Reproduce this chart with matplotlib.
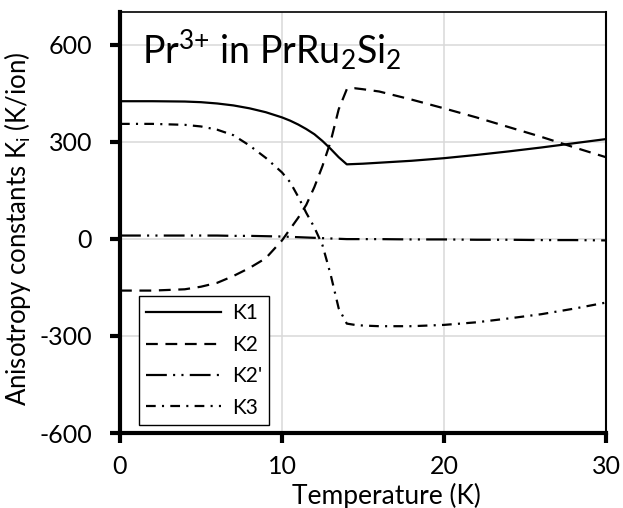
import matplotlib
matplotlib.use("Agg")
import matplotlib.pyplot as plt

# temperature grid (K) and anisotropy constants (K/ion)
temp = [0, 2, 4, 5, 6, 7, 8, 9, 10, 10.5, 11, 11.5, 12, 12.5, 13, 13.5, 14,
        14.5, 15, 16, 18, 20, 22, 24, 26, 28, 30]
k1 = [425, 425, 424, 422, 418, 412, 403, 391, 375, 365, 353, 339, 323, 302,
      278, 252, 230, 231, 232, 235, 241, 249, 259, 270, 282, 295, 308]
k2 = [-160, -160, -156, -148, -136, -115, -90, -60, -5, 30, 65, 105, 160, 225,
      300, 400, 462, 465, 462, 455, 430, 403, 375, 345, 315, 283, 252]
k2p = [10, 10, 10, 10, 10, 9, 9, 8, 7, 6, 5, 4, 3, 2, 1, 0, -1, -1, -1, -1,
       -2, -2, -3, -3, -4, -4, -5]
k3 = [355, 355, 352, 347, 337, 320, 288, 250, 205, 175, 130, 80, 35, -20,
      -110, -215, -262, -266, -268, -270, -270, -266, -258, -246, -233, -216, -197]

labels = ["K1", "K2", "K2'", "K3"]
x_ticks = [0, 10, 20, 30]
y_ticks = [-600, -300, 0, 300, 600]

plt.rcParams['font.family'] = ['Lato', 'DejaVu Sans']
plt.rcParams['mathtext.fontset'] = 'custom'
plt.rcParams['mathtext.rm'] = 'Lato'
plt.rcParams['mathtext.default'] = 'regular'
plt.rcParams['lines.scale_dashes'] = False
plt.rcParams['axes.unicode_minus'] = False

fig = plt.figure(figsize=(6.23, 5.08), dpi=100)
ax = fig.add_axes([0.1926, 0.1476, 0.7801, 0.8284])

styles = ['-', (0, (8.5, 5.5)), (0, (15, 4.5, 1.5, 4.5, 1.5, 4.5)),
          (0, (7, 4.5, 1.5, 4.5))]
for vals, ls, lab in zip([k1, k2, k2p, k3], styles, labels):
    ax.plot(temp, vals, color='black', lw=1.6, ls=ls, label=lab)

ax.set_xlim(0, 30)
ax.set_ylim(-600, 700)
ax.set_xticks(x_ticks)
ax.set_yticks(y_ticks)
ax.grid(True, color='#d9d9d9', lw=1.1)
ax.set_axisbelow(True)

for s in ['left', 'bottom']:
    ax.spines[s].set_linewidth(3)
ax.spines['top'].set_linewidth(1.2)
ax.spines['right'].set_linewidth(1.5)
ax.tick_params(axis='both', direction='out', length=7, width=3, labelsize=18)
ax.tick_params(axis='x', pad=9)
ax.tick_params(axis='y', pad=13)
ax.tick_params(top=False, right=False)

ax.set_xlabel('Temperature (K)', fontsize=19)
ax.xaxis.label.set_va('baseline')
ax.xaxis.set_label_coords(0.549, -0.168)
ax.set_ylabel('Anisotropy constants K$_\\mathregular{i}$ (K/ion)', fontsize=18.5)
ax.yaxis.set_label_coords(-0.179, 0.485)

ax.text(0.045, 0.877, 'Pr$^{3{+}}$ in PrRu$_2$Si$_2$', transform=ax.transAxes,
        fontsize=27, va='baseline', ha='left')

leg = ax.legend(loc='lower left', bbox_to_anchor=(0.039, 0.019),
                borderaxespad=0, fontsize=15, handlelength=3.6,
                handletextpad=0.5, labelspacing=0.55, fancybox=False,
                framealpha=1, edgecolor='black', borderpad=0.35)
leg.get_frame().set_linewidth(1.0)

fig.savefig('out.png', dpi=100)
